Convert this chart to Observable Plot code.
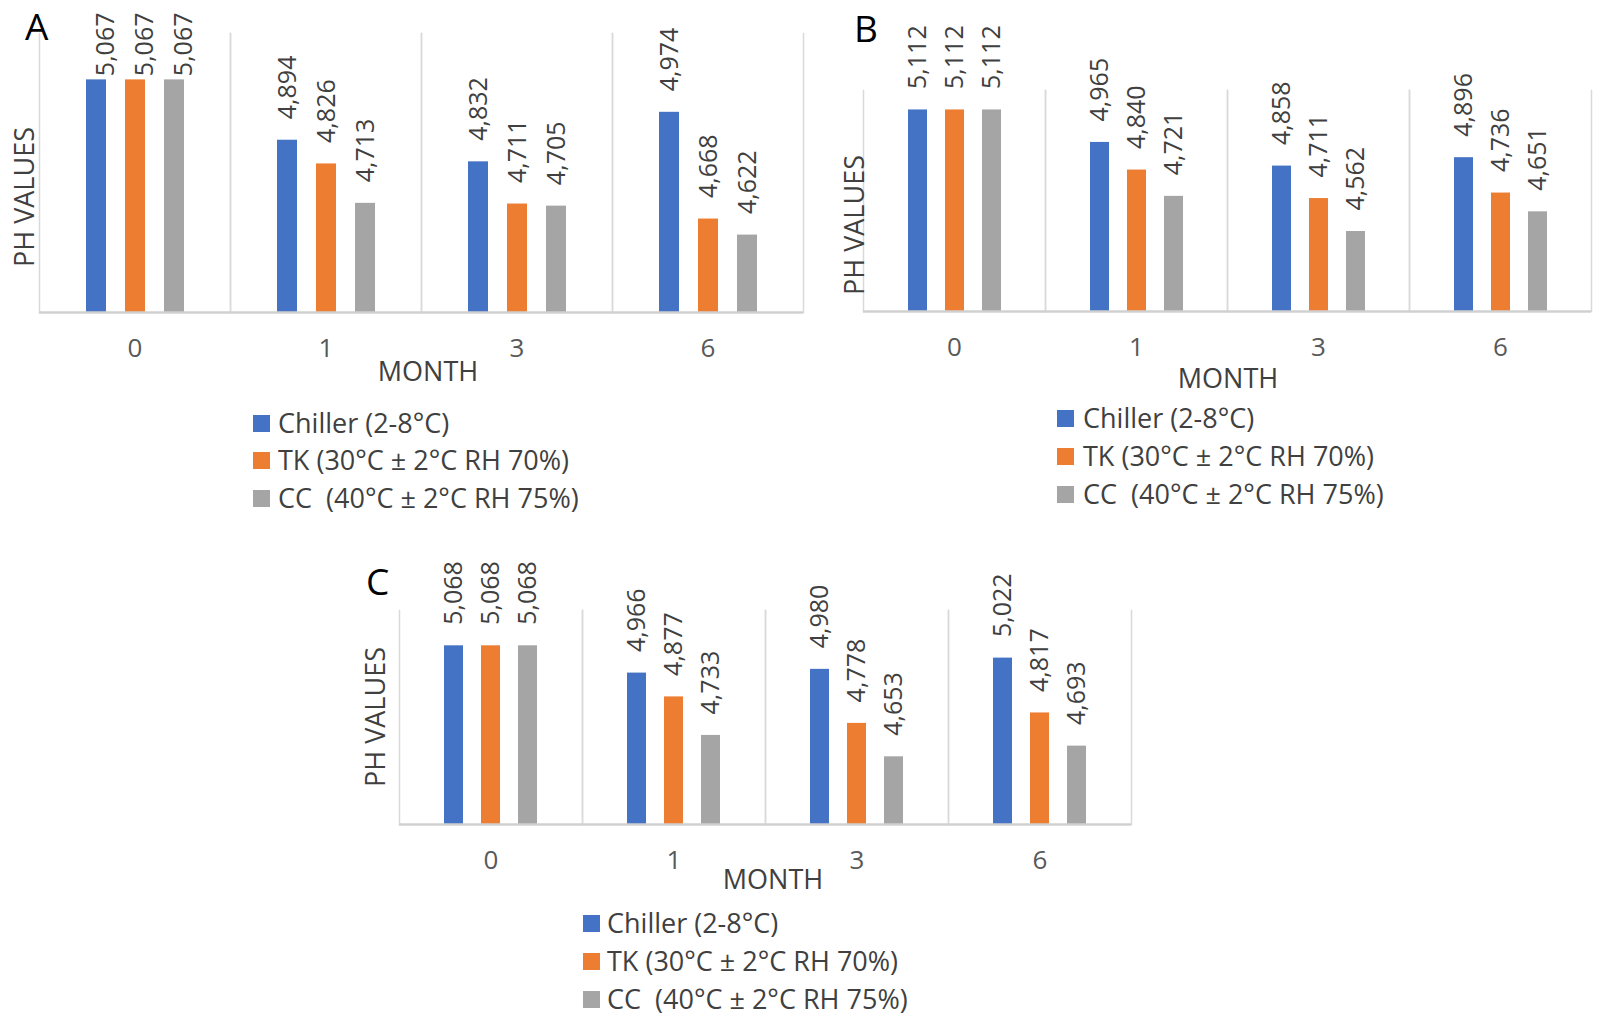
<!DOCTYPE html>
<html>
<head>
<meta charset="utf-8">
<script src="https://cdn.jsdelivr.net/npm/d3@7"></script>
<script src="https://cdn.jsdelivr.net/npm/@observablehq/plot@0.6"></script>
<style>
  html, body { margin: 0; padding: 0; background: #fff; }
  #page { position: relative; width: 1600px; height: 1019px; overflow: hidden; font-family: "Open Sans", sans-serif; }
  .abs { position: absolute; white-space: pre; }
  .letter { font-size: 37px; line-height: 37px; color: #000; }
  .ytitle { font-size: 27px; line-height: 27px; color: #404040; transform: translate(-50%, -50%) rotate(-90deg); }
  .xtitle { font-size: 27px; line-height: 27px; color: #404040; transform: translate(-50%, -50%); }
  .leg { font-size: 27px; line-height: 30px; height: 30px; color: #404040; display: flex; align-items: center; }
  .sw { width: 17px; height: 17px; display: inline-block; }
  .plotbox svg { overflow: visible; }
</style>
</head>
<body>
<div id="page"></div>
<script>
// ---- data ----
const months = ["0", "1", "3", "6"];
const seriesNames = ["Chiller (2-8°C)", "TK (30°C ± 2°C RH 70%)", "CC  (40°C ± 2°C RH 75%)"];
const seriesColors = ["#4472C4", "#ED7D31", "#A5A5A5"];

const aChiller = [5.067, 4.894, 4.832, 4.974];
const aTK      = [5.067, 4.826, 4.711, 4.668];
const aCC      = [5.067, 4.713, 4.705, 4.622];

const bChiller = [5.112, 4.965, 4.858, 4.896];
const bTK      = [5.112, 4.840, 4.711, 4.736];
const bCC      = [5.112, 4.721, 4.562, 4.651];

const cChiller = [5.068, 4.966, 4.980, 5.022];
const cTK      = [5.068, 4.877, 4.778, 4.817];
const cCC      = [5.068, 4.733, 4.653, 4.693];

const yDomainA = [4.4, 5.2];
const yDomainB = [4.2, 5.2];
const yDomainC = [4.4, 5.2];

const xTitle = "MONTH";
const yTitle = "PH VALUES";

// ---- helpers ----
const fmt = v => v.toFixed(3).replace(".", ",");
const page = document.getElementById("page");

function tableOf(seriesValues) {
  const rows = [];
  seriesNames.forEach((s, i) => months.forEach((m, j) => rows.push({month: m, series: s, value: seriesValues[i][j]})));
  return rows;
}

function addEl(cls, text, left, top) {
  const d = document.createElement("div");
  d.className = "abs " + cls;
  d.textContent = text;
  d.style.left = left + "px";
  d.style.top = top + "px";
  page.appendChild(d);
  return d;
}

function addLegend(swLeft, textLeft, rowCenters) {
  seriesNames.forEach((s, i) => {
    const row = document.createElement("div");
    row.className = "abs leg";
    row.style.left = swLeft + "px";
    row.style.top = (rowCenters[i] - 15) + "px";
    const sw = document.createElement("span");
    sw.className = "sw";
    sw.style.background = seriesColors[i];
    sw.style.marginRight = (textLeft - swLeft - 17) + "px";
    const t = document.createElement("span");
    t.textContent = s;
    row.appendChild(sw);
    row.appendChild(t);
    page.appendChild(row);
  });
}

function panel(seriesValues, yDomain, box) {
  const data = tableOf(seriesValues);
  // labels sit 21px above the bar; a label that would run past the top of the chart area
  // is pulled down to hang from it, as the spreadsheet does
  const plotH = box.height - box.mt - box.mb;
  const gap = 21, labelLen = 64, minTop = 12;
  const fits = d => box.mt + plotH * (1 - (d.value - yDomain[0]) / (yDomain[1] - yDomain[0])) - gap - labelLen >= minTop;
  const labelStyle = {fx: "month", x: "series", text: d => fmt(d.value), rotate: -90, fontSize: 25, fill: "#404040"};
  const chart = Plot.plot({
    width: box.width,
    height: box.height,
    marginLeft: box.ml,
    marginRight: box.mr,
    marginTop: box.mt,
    marginBottom: box.mb,
    style: {fontFamily: "Open Sans", fontSize: "26px", color: "#595959", background: "transparent", overflow: "visible"},
    fx: {domain: months, padding: 0, label: null, axis: "bottom", tickSize: 0, tickPadding: 26},
    x: {domain: seriesNames, paddingInner: 0.49, paddingOuter: 1.19, axis: null},
    y: {domain: yDomain, axis: null},
    color: {domain: seriesNames, range: seriesColors},
    marks: [
      Plot.frame({anchor: "left", stroke: "#D9D9D9", strokeWidth: 1.5}),
      Plot.frame({anchor: "right", stroke: "#D9D9D9", strokeWidth: 1.5}),
      Plot.barY(data, {fx: "month", x: "series", y1: yDomain[0], y2: "value", fill: "series"}),
      Plot.ruleY([yDomain[0]], {stroke: "#D0D0D0", strokeWidth: 2.5}),
      Plot.text(data, {...labelStyle, filter: fits, y: "value", textAnchor: "start", dy: -gap}),
      Plot.text(data, {...labelStyle, filter: d => !fits(d), frameAnchor: "top", textAnchor: "end", dy: minTop - box.mt})
    ]
  });
  const holder = document.createElement("div");
  holder.className = "abs plotbox";
  holder.style.left = box.left + "px";
  holder.style.top = box.top + "px";
  holder.style.width = box.width + "px";
  holder.appendChild(chart);
  page.appendChild(holder);
}

// ---- panel A ----
panel([aChiller, aTK, aCC], yDomainA, {left: 0, top: 0, width: 810, height: 382, ml: 38, mr: 6, mt: 33, mb: 70});
addEl("letter", "A", 25, 7);
addEl("ytitle", yTitle, 23, 197);
addEl("xtitle", xTitle, 428, 370);
addLegend(253, 278, [423, 460, 498]);

// ---- panel B ----
panel([bChiller, bTK, bCC], yDomainB, {left: 800, top: 0, width: 800, height: 381, ml: 62, mr: 8, mt: 90, mb: 70});
addEl("letter", "B", 854, 9);
addEl("ytitle", yTitle, 853, 225);
addEl("xtitle", xTitle, 1228, 377);
addLegend(1057, 1083, [418, 456, 494]);

// ---- panel C ----
panel([cChiller, cTK, cCC], yDomainC, {left: 360, top: 530, width: 777, height: 364, ml: 38, mr: 6, mt: 80, mb: 70});
addEl("letter", "C", 366, 562);
addEl("ytitle", yTitle, 374, 717);
addEl("xtitle", xTitle, 773, 878);
addLegend(583, 607, [923, 961, 999]);
</script>
</body>
</html>
